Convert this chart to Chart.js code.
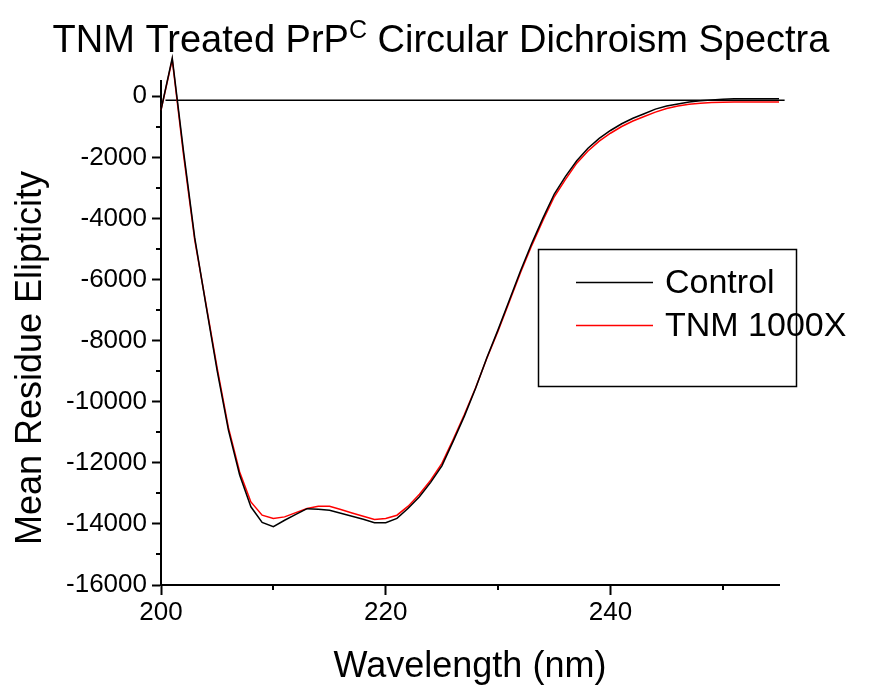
<!DOCTYPE html>
<html lang="en">
<head>
<meta charset="UTF-8">
<title>TNM Treated PrPC Circular Dichroism Spectra</title>
<script src="https://cdn.jsdelivr.net/npm/chart.js"></script>
<style>
  html, body { margin: 0; padding: 0; background: #fff; }
  #wrap { width: 882px; height: 689px; }
</style>
</head>
<body>
<div id="wrap"><canvas id="cdChart" width="882" height="689"></canvas></div>
<script>
  // wavelength in nm, one reading per nm
  const wavelengths = [200, 201, 202, 203, 204, 205, 206, 207, 208, 209,
                       210, 211, 212, 213, 214, 215, 216, 217, 218, 219,
                       220, 221, 222, 223, 224, 225, 226, 227, 228, 229,
                       230, 231, 232, 233, 234, 235, 236, 237, 238, 239,
                       240, 241, 242, 243, 244, 245, 246, 247, 248, 249,
                       250, 251, 252, 253, 254, 255];

  // mean residue ellipticity
  const control = [-450, 1250, -1790, -4630, -6840, -8990, -10930, -12400, -13440, -13950,
                   -14090, -13880, -13690, -13500, -13520, -13550, -13650, -13750, -13850, -13960,
                   -13960, -13820, -13490, -13110, -12640, -12100, -11300, -10470, -9560, -8560,
                   -7640, -6680, -5710, -4810, -3980, -3200, -2620, -2110, -1700, -1380,
                   -1120, -900, -720, -570, -420, -320, -250, -190, -150, -120,
                   -95, -85, -80, -80, -80, -85];

  const tnm1000x = [-450, 1200, -1900, -4700, -6800, -8900, -10850, -12300, -13280, -13715,
                    -13820, -13770, -13630, -13495, -13420, -13420, -13530, -13640, -13750, -13856,
                    -13820, -13715, -13420, -13030, -12570, -12020, -11240, -10420, -9540, -8580,
                    -7680, -6730, -5770, -4880, -4060, -3290, -2720, -2190, -1790, -1470,
                    -1210, -990, -810, -660, -520, -400, -320, -260, -225, -205,
                    -195, -190, -188, -186, -185, -185];

  const baselineX = [200.4, 255.5];
  const baselineY = [-130, -130];

  const yTicks = [-16000, -14000, -12000, -10000, -8000, -6000, -4000, -2000, 0];
  const yMinorTicks = [-15000, -13000, -11000, -9000, -7000, -5000, -3000, -1000];
  const xTicks = [200, 220, 240];
  const xMinorTicks = [210, 230, 250];

  const FONT = "'Liberation Sans', Arial, Helvetica, sans-serif";

  const toPoints = (xs, ys) => xs.map((x, i) => ({ x: x, y: ys[i] }));

  // minor ticks, titles and the boxed legend
  const decorations = {
    id: 'decorations',
    afterDraw(chart) {
      const ctx = chart.ctx;
      const xs = chart.scales.x, ys = chart.scales.y;
      const area = chart.chartArea;
      ctx.save();

      ctx.strokeStyle = '#000';
      ctx.lineWidth = 2;
      ctx.beginPath();
      yMinorTicks.forEach(v => {
        const p = Math.round(ys.getPixelForValue(v));
        ctx.moveTo(area.left - 5, p);
        ctx.lineTo(area.left, p);
      });
      xMinorTicks.forEach(v => {
        const p = Math.round(xs.getPixelForValue(v));
        ctx.moveTo(p, area.bottom);
        ctx.lineTo(p, area.bottom + 5);
      });
      ctx.stroke();

      ctx.fillStyle = '#000';
      ctx.textBaseline = 'alphabetic';

      // chart title with superscript C
      const big = '38px ' + FONT, small = '25px ' + FONT;
      const t1 = 'TNM Treated PrP', t2 = 'C', t3 = ' Circular Dichroism Spectra';
      ctx.font = big;
      const w1 = ctx.measureText(t1).width, w3 = ctx.measureText(t3).width;
      ctx.font = small;
      const w2 = ctx.measureText(t2).width;
      let tx = chart.width / 2 - (w1 + w2 + w3) / 2;
      ctx.textAlign = 'left';
      ctx.font = big;
      ctx.fillText(t1, tx, 52);
      ctx.font = small;
      ctx.fillText(t2, tx + w1, 38);
      ctx.font = big;
      ctx.fillText(t3, tx + w1 + w2, 52);

      // axis titles
      ctx.font = '36px ' + FONT;
      ctx.textAlign = 'center';
      ctx.fillText('Wavelength (nm)', (area.left + area.right) / 2, 677);
      ctx.save();
      ctx.translate(41, 358);
      ctx.rotate(-Math.PI / 2);
      ctx.fillText('Mean Residue Elipticity', 0, 0);
      ctx.restore();

      // legend box
      ctx.lineWidth = 1.5;
      ctx.strokeStyle = '#000';
      ctx.strokeRect(538.5, 249.5, 258, 137);
      ctx.font = '34px ' + FONT;
      ctx.textAlign = 'left';
      ctx.textBaseline = 'middle';
      chart.data.datasets.filter(d => d.label).forEach((ds, i) => {
        const y = 282.5 + i * 43;
        ctx.strokeStyle = ds.borderColor;
        ctx.lineWidth = 1.5;
        ctx.beginPath();
        ctx.moveTo(576, y);
        ctx.lineTo(653, y);
        ctx.stroke();
        ctx.fillStyle = '#000';
        ctx.fillText(ds.label, 665, y + 1);
      });

      ctx.restore();
    }
  };

  new Chart(document.getElementById('cdChart'), {
    type: 'line',
    data: {
      datasets: [
        {
          label: 'Control',
          data: toPoints(wavelengths, control),
          borderColor: '#000000',
          borderWidth: 1.5,
          pointRadius: 0,
          tension: 0,
          clip: false
        },
        {
          label: 'TNM 1000X',
          data: toPoints(wavelengths, tnm1000x),
          borderColor: '#ff0000',
          borderWidth: 1.5,
          pointRadius: 0,
          tension: 0,
          clip: false
        },
        {
          label: '',
          data: toPoints(baselineX, baselineY),
          borderColor: '#000000',
          borderWidth: 1.5,
          pointRadius: 0,
          clip: false
        }
      ]
    },
    options: {
      responsive: false,
      animation: false,
      layout: { padding: { top: 81, right: 103, left: 0, bottom: 0 } },
      plugins: {
        legend: { display: false },
        title: { display: false },
        tooltip: { enabled: false }
      },
      scales: {
        x: {
          type: 'linear',
          min: 200,
          max: 255,
          afterFit: (scale) => { scale.height = 104; },
          afterBuildTicks: (scale) => { scale.ticks = xTicks.map(v => ({ value: v })); },
          border: { display: true, color: '#000', width: 2 },
          grid: { drawOnChartArea: false, drawTicks: true, tickLength: 10, tickWidth: 2, tickColor: '#000' },
          ticks: { color: '#000', font: { family: FONT, size: 26 }, padding: 2, maxRotation: 0,
                   callback: (v) => String(v) }
        },
        y: {
          min: -16000,
          max: 500,
          afterFit: (scale) => { scale.width = 161; },
          afterBuildTicks: (scale) => { scale.ticks = yTicks.map(v => ({ value: v })); },
          border: { display: true, color: '#000', width: 2 },
          grid: { drawOnChartArea: false, drawTicks: true, tickLength: 9, tickWidth: 2, tickColor: '#000' },
          ticks: { color: '#000', font: { family: FONT, size: 26 }, padding: 5,
                   callback: (v) => String(v) }
        }
      }
    },
    plugins: [decorations]
  });
</script>
</body>
</html>
